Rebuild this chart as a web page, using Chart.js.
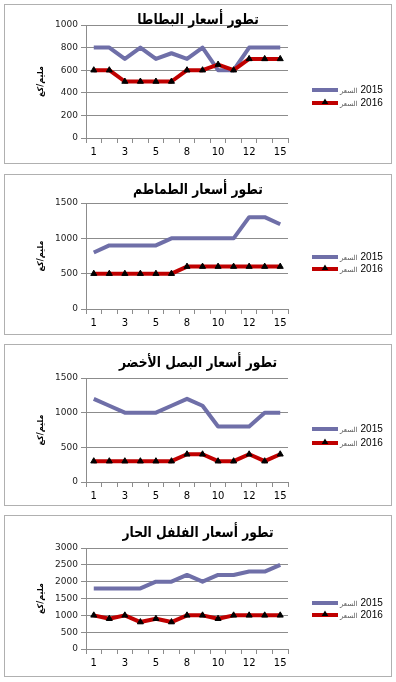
<!DOCTYPE html>
<html>
<head>
<meta charset="utf-8">
<script src="https://cdn.jsdelivr.net/npm/chart.js@4.4.1/dist/chart.umd.min.js"></script>
<style>
  body { margin: 0; background: #fff; width: 396px; height: 682px; position: relative; overflow: hidden; }
  .panel { position: absolute; left: 4px; width: 386px; border: 1px solid #b0b0b0; background: #fff; }
  .panel canvas { display: block; }
</style>
</head>
<body>
<div class="panel" style="top:4px;height:158px"><canvas id="grafico1" width="386" height="158"></canvas></div>
<div class="panel" style="top:174px;height:159px"><canvas id="grafico2" width="386" height="159"></canvas></div>
<div class="panel" style="top:344px;height:160px"><canvas id="grafico3" width="386" height="160"></canvas></div>
<div class="panel" style="top:515px;height:160px"><canvas id="grafico4" width="386" height="160"></canvas></div>
<script>
const dias = ["1", "2", "3", "4", "5", "7", "8", "9", "10", "11", "12", "14", "15"];
const etiquetasSeries = ["السعر 2015", "السعر 2016"];
const tituloEje = "مليم/كغ";

const titulos = ["تطور أسعار البطاطا", "تطور أسعار الطماطم", "تطور أسعار البصل الأخضر", "تطور أسعار الفلفل الحار"];

const papas2015 = [800, 800, 700, 800, 700, 750, 700, 800, 600, 600, 800, 800, 800];
const papas2016 = [600, 600, 500, 500, 500, 500, 600, 600, 650, 600, 700, 700, 700];

const tomates2015 = [800, 900, 900, 900, 900, 1000, 1000, 1000, 1000, 1000, 1300, 1300, 1200];
const tomates2016 = [500, 500, 500, 500, 500, 500, 600, 600, 600, 600, 600, 600, 600];

const cebolla2015 = [1200, 1100, 1000, 1000, 1000, 1100, 1200, 1100, 800, 800, 800, 1000, 1000];
const cebolla2016 = [300, 300, 300, 300, 300, 300, 400, 400, 300, 300, 400, 300, 400];

const pimiento2015 = [1800, 1800, 1800, 1800, 2000, 2000, 2200, 2000, 2200, 2200, 2300, 2300, 2500];
const pimiento2016 = [1000, 900, 1000, 800, 900, 800, 1000, 1000, 900, 1000, 1000, 1000, 1000];

const maximosY = [1000, 1500, 1500, 3000];
const pasosY = [200, 500, 500, 500];

const colorAzul = "#6f6fa8";
const colorRojo = "#c00000";
const colorRejilla = "#8c8c8c";

// posiciones de cada panel (en px del canvas)
const paneles = [
    { id: "grafico1", d1: papas2015, d2: papas2016, arriba: 20, abajo: 133, tituloY: 15, leyendaY: [85, 98] },
    { id: "grafico2", d1: tomates2015, d2: tomates2016, arriba: 28, abajo: 134, tituloY: 15, leyendaY: [82, 94] },
    { id: "grafico3", d1: cebolla2015, d2: cebolla2016, arriba: 33, abajo: 137, tituloY: 18, leyendaY: [84, 98] },
    { id: "grafico4", d1: pimiento2015, d2: pimiento2016, arriba: 32, abajo: 133, tituloY: 17, leyendaY: [87, 99] }
];

function dibujarTriangulo(ctx, x, y, r) {
    ctx.beginPath();
    ctx.moveTo(x, y - r);
    ctx.lineTo(x + r * 0.95, y + r * 0.6);
    ctx.lineTo(x - r * 0.95, y + r * 0.6);
    ctx.closePath();
    ctx.fillStyle = "#000";
    ctx.fill();
}

const pluginTituloLeyenda = {
    id: "tituloLeyenda",
    afterDraw(chart, args, opts) {
        const ctx = chart.ctx;
        ctx.save();
        ctx.fillStyle = "#000";
        ctx.font = "bold 15px 'DejaVu Sans'";
        ctx.textAlign = "center";
        ctx.textBaseline = "middle";
        ctx.translate(chart.width / 2, opts.y);
        ctx.scale(0.82, 1);
        ctx.fillText(opts.texto, 0, 0);
        ctx.restore();

        ctx.save();
        ctx.textBaseline = "middle";
        ctx.textAlign = "left";
        const x0 = chart.chartArea.right + 24;
        const x1 = x0 + 26;
        chart.data.datasets.forEach((ds, i) => {
            const y = opts.leyendaY[i];
            ctx.strokeStyle = ds.borderColor;
            ctx.lineWidth = 4;
            ctx.beginPath();
            ctx.moveTo(x0, y);
            ctx.lineTo(x1, y);
            ctx.stroke();
            if (ds.pointRadius > 0) {
                dibujarTriangulo(ctx, (x0 + x1) / 2, y - 1, 3.5);
            }
            const partes = ds.label.split(" ");
            ctx.fillStyle = "#555";
            ctx.font = "7px 'DejaVu Sans'";
            ctx.fillText(partes[0], x1 + 2, y + 1);
            const ancho = ctx.measureText(partes[0]).width;
            ctx.fillStyle = "#000";
            ctx.font = "10px 'Liberation Sans'";
            ctx.fillText(partes[1], x1 + 5 + ancho, y);
        });
        ctx.restore();
    }
};

paneles.forEach((p, n) => {
    const canvas = document.getElementById(p.id);
    const alto = canvas.height;
    new Chart(canvas.getContext("2d"), {
        type: "line",
        data: {
            labels: dias,
            datasets: [{
                label: etiquetasSeries[0],
                data: p.d1,
                borderColor: colorAzul,
                backgroundColor: colorAzul,
                borderWidth: 4,
                pointRadius: 0,
                tension: 0,
                borderJoinStyle: "round",
                order: 1
            }, {
                label: etiquetasSeries[1],
                data: p.d2,
                borderColor: colorRojo,
                backgroundColor: colorRojo,
                borderWidth: 4,
                pointStyle: "triangle",
                pointRadius: 3.5,
                pointBackgroundColor: "#000",
                pointBorderColor: "#000",
                pointBorderWidth: 1,
                tension: 0,
                borderJoinStyle: "round",
                order: 0
            }]
        },
        options: {
            responsive: false,
            animation: false,
            events: [],
            layout: { padding: { top: p.arriba, right: 103, bottom: 0, left: 0 } },
            plugins: {
                legend: { display: false },
                title: { display: false },
                tooltip: { enabled: false },
                tituloLeyenda: { texto: titulos[n], y: p.tituloY, leyendaY: p.leyendaY }
            },
            scales: {
                x: {
                    offset: true,
                    grid: { offset: true, drawOnChartArea: false, drawTicks: true, tickLength: 5, color: colorRejilla },
                    border: { display: true, color: colorRejilla },
                    ticks: {
                        autoSkip: false,
                        maxRotation: 0,
                        padding: 3,
                        color: "#000",
                        font: { family: "'DejaVu Sans'", size: 10 },
                        callback: function (v, i) { return i % 2 === 0 ? this.getLabelForValue(v) : ""; }
                    },
                    afterFit: (s) => { s.height = alto - p.abajo; }
                },
                y: {
                    min: 0,
                    max: maximosY[n],
                    grid: { color: colorRejilla, tickLength: 5 },
                    border: { display: true, color: colorRejilla },
                    ticks: {
                        stepSize: pasosY[n],
                        padding: 3,
                        color: "#222",
                        font: { family: "'DejaVu Sans'", size: 9 },
                        callback: (v) => String(v)
                    },
                    title: {
                        display: true,
                        text: tituloEje,
                        color: "#000",
                        padding: { top: 31, bottom: 0 },
                        font: { family: "'DejaVu Sans'", size: 8, weight: "bold" }
                    },
                    afterFit: (s) => { s.width = 81; }
                }
            }
        },
        plugins: [pluginTituloLeyenda]
    });
});
</script>
</body>
</html>
